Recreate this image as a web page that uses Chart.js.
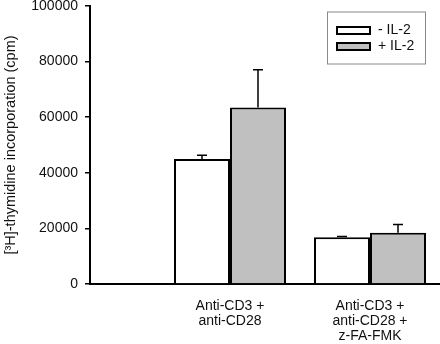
<!DOCTYPE html>
<html><head><meta charset="utf-8">
<script src="https://cdn.jsdelivr.net/npm/chart.js@4/dist/chart.umd.min.js"></script>
<style>html,body{margin:0;padding:0;background:#fff}#wrap{width:440px;height:344px}</style>
</head><body><div id="wrap"><canvas id="c" width="440" height="344"></canvas></div>
<script>
const categories = [['Anti-CD3 +', 'anti-CD28'], ['Anti-CD3 +', 'anti-CD28 +', 'z-FA-FMK']];
const categoryPositions = [1, 2];
const seriesNames = ['- IL-2', '+ IL-2'];
const minusIL2 = [45000, 16800];
const minusIL2Err = [1300, 300];
const plusIL2 = [63500, 18400];
const plusIL2Err = [13600, 3000];
const yTicks = [0, 20000, 40000, 60000, 80000, 100000];
const yTitle = '[\u00B3H]-thymidine incorporation (cpm)';

Chart.defaults.font.family = '"Liberation Sans", Arial, sans-serif';
Chart.defaults.color = '#111';

const errorBars = {
  id: 'errorBars',
  afterDatasetsDraw(chart) {
    const ctx = chart.ctx, ys = chart.scales.y;
    chart.data.datasets.forEach((ds, di) => {
      const meta = chart.getDatasetMeta(di);
      meta.data.forEach((el, i) => {
        const v = ds.data[i].y, e = ds.errors[i];
        const top = ys.getPixelForValue(v + e);
        ctx.save();
        ctx.strokeStyle = '#000';
        ctx.lineWidth = 1.5;
        ctx.beginPath();
        ctx.moveTo(el.x, el.y);
        ctx.lineTo(el.x, top);
        ctx.moveTo(el.x - 5, top);
        ctx.lineTo(el.x + 5, top);
        ctx.stroke();
        ctx.restore();
      });
    });
  }
};

const boxLegend = {
  id: 'boxLegend',
  afterDraw(chart) {
    const ctx = chart.ctx;
    const x0 = 327.5, y0 = 12, w = 98, h = 52;
    ctx.save();
    ctx.strokeStyle = '#8a8a8a';
    ctx.lineWidth = 1;
    ctx.strokeRect(x0, y0, w, h);
    ctx.font = '14px "Liberation Sans", Arial, sans-serif';
    ctx.textBaseline = 'middle';
    chart.data.datasets.forEach((ds, i) => {
      const cy = 30.5 + i * 16;
      ctx.fillStyle = ds.backgroundColor;
      ctx.fillRect(337, cy - 3.5, 33, 7);
      ctx.strokeStyle = '#000';
      ctx.lineWidth = 2;
      ctx.strokeRect(337, cy - 3.5, 33, 7);
      ctx.fillStyle = '#111';
      ctx.fillText(ds.label, 378, cy);
    });
    ctx.restore();
  }
};

new Chart(document.getElementById('c'), {
  type: 'bar',
  data: {
    datasets: [
      {
        label: seriesNames[0],
        data: categoryPositions.map((x, i) => ({ x, y: minusIL2[i] })),
        errors: minusIL2Err,
        backgroundColor: '#ffffff',
        borderColor: '#000',
        borderWidth: 2
      },
      {
        label: seriesNames[1],
        data: categoryPositions.map((x, i) => ({ x, y: plusIL2[i] })),
        errors: plusIL2Err,
        backgroundColor: '#c0c0c0',
        borderColor: '#000',
        borderWidth: 2
      }
    ]
  },
  options: {
    responsive: false,
    devicePixelRatio: 1,
    animation: false,
    layout: { padding: { top: 6, right: 0, left: 0, bottom: 0 } },
    plugins: { legend: { display: false }, tooltip: { enabled: false } },
    datasets: { bar: { categoryPercentage: 0.8, barPercentage: 1.0 } },
    scales: {
      x: {
        type: 'linear',
        offset: false,
        min: 0,
        max: 2.5,
        afterBuildTicks: s => { s.ticks = categoryPositions.map(v => ({ value: v })); },
        afterFit: s => { s.height = 60; s.paddingLeft = 0; s.paddingRight = 0; },
        grid: { offset: false, drawOnChartArea: false, drawTicks: false },
        border: { color: '#000', width: 2 },
        ticks: {
          padding: 15,
          maxRotation: 0,
          autoSkip: false,
          font: { size: 14, lineHeight: 1.07 },
          color: '#111',
          callback: (v, i) => categories[i]
        }
      },
      y: {
        min: 0,
        max: 100000,
        afterBuildTicks: s => { s.ticks = yTicks.map(v => ({ value: v })); },
        afterFit: s => { s.width = 90; s.paddingTop = 0; s.paddingBottom = 0; },
        grid: { drawOnChartArea: false, drawTicks: true, tickLength: 5, color: '#000', lineWidth: 1.5 },
        border: { color: '#000', width: 2 },
        ticks: {
          padding: 7,
          font: { size: 14 },
          color: '#111',
          callback: v => String(v)
        },
        title: {
          display: true,
          text: yTitle,
          font: { size: 14.5 },
          color: '#111',
          padding: { top: 2, bottom: 0 }
        }
      }
    }
  },
  plugins: [errorBars, boxLegend]
});
</script>
</body></html>
